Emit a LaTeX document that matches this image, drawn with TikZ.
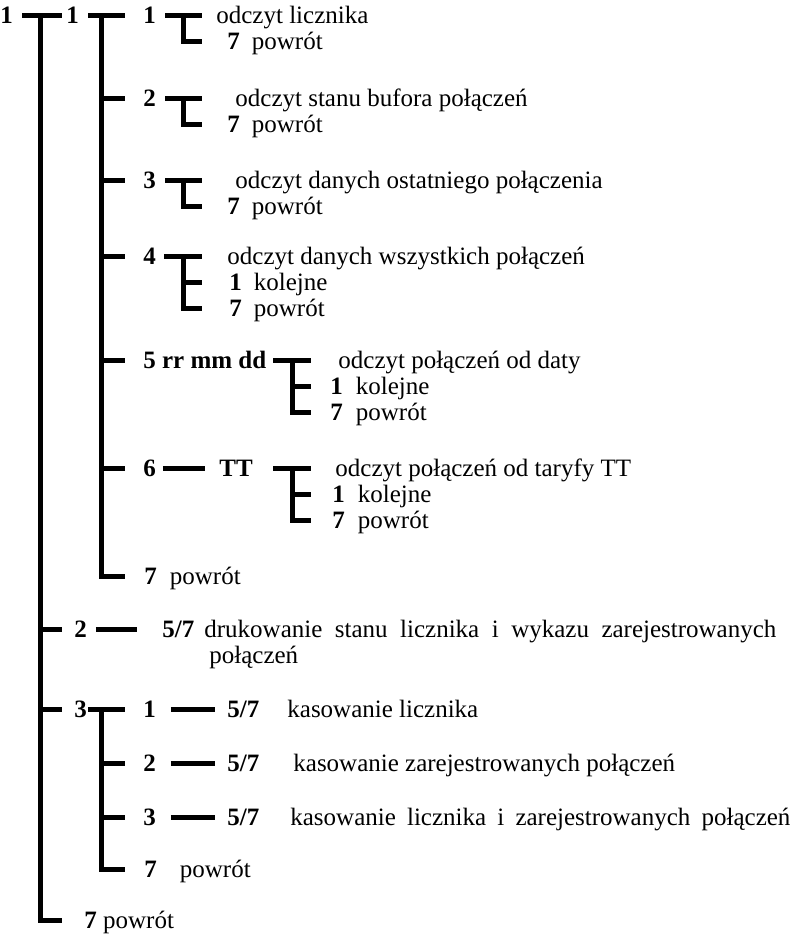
\documentclass[tikz,border=0pt]{standalone}
\usepackage{fontspec}
\setmainfont{Liberation Serif}
\usepackage{tikz}
\newcommand\menusize{\fontsize{12.5pt}{13pt}\selectfont}
\tikzset{bar/.style={line width=2.5pt},lbl/.style={anchor=west,inner sep=0pt,text height=8.4pt,text depth=0pt,font=\menusize},key/.style={lbl,font=\menusize\bfseries}}

\begin{document}
\begin{tikzpicture}[x=0.5pt,y=-0.5pt]
\useasboundingbox (0,0) rectangle (800,934);
% main menu
\node[key] (a) at (0,15) {1};
\node[key] (b) at (66,15) {1};
\coordinate (r1) at (40,15);
\coordinate (r2) at (40,629);
\coordinate (r3) at (40,709);
\coordinate (r7) at (40,920);
\draw[bar] (r1) ++(-18,0) -- ++(40,0);
\draw[bar] (r1) -- (r7) -- ++(22,0);
\draw[bar] (r2) -- ++(22,0);
\draw[bar] (r3) -- ++(22,0);
\node[lbl] (b7) at (84,920) {\textbf{7} powrót};
% menu 1
\coordinate (m1) at (101,15);
\coordinate (m2) at (101,98);
\coordinate (m3) at (101,180);
\coordinate (m4) at (101,256);
\coordinate (m5) at (101,360);
\coordinate (m6) at (101,468);
\coordinate (m7) at (101,576);
\draw[bar] (m1) ++(-13,0) -- ++(37,0);
\draw[bar] (m1) -- (m7) -- ++(24,0);
\foreach \i in {2,...,6} \draw[bar] (m\i) -- ++(24,0);
\node[key] (k11) at (143,15) {1};
\node[key] (k12) at (143,98) {2};
\node[key] (k13) at (143,180) {3};
\node[key] (k14) at (143,256) {4};
\node[key] (k15) at (143,360) {5 rr mm dd};
\node[key] (k16) at (143,468) {6};
\node[key] (tt) at (219,468) {TT};
\draw[bar,shorten <=3.25pt,shorten >=7pt] (k16) -- (tt);
\node[lbl] (k17) at (144,576) {\textbf{7}\hspace{6.5pt}powrót};
% submenus of menu 1
\coordinate (t1) at (183,15);
\coordinate (t2) at (183,98);
\coordinate (t3) at (183,180);
\coordinate (t4) at (183,256);
\coordinate (t5) at (292,360);
\coordinate (t6) at (292,468);
\foreach \i in {1,2,3} {
  \draw[bar] (t\i) ++(-18,0) -- ++(37,0);
  \draw[bar] (t\i) -- ++(0,26) -- ++(19,0);
}
\foreach \i in {4,5,6} {
  \draw[bar] (t\i) ++(-19,0) -- ++(38,0);
  \draw[bar] (t\i) -- ++(0,52) -- ++(19,0);
  \draw[bar] (t\i) ++(0,26) -- ++(19,0);
}
\node[lbl] (o1) at (216,15) {odczyt licznika};
\node[lbl] (o1b) at (227,41) {\textbf{7}\hspace{6pt}powrót};
\node[lbl] (o2) at (235,98) {odczyt stanu bufora połączeń};
\node[lbl] (o2b) at (227,124) {\textbf{7}\hspace{6pt}powrót};
\node[lbl] (o3) at (235,180) {odczyt danych ostatniego połączenia};
\node[lbl] (o3b) at (227,206) {\textbf{7}\hspace{6pt}powrót};
\node[lbl] (o4) at (227,256) {odczyt danych wszystkich połączeń};
\node[lbl] (o4a) at (229,282) {\textbf{1}\hspace{6pt}kolejne};
\node[lbl] (o4b) at (229,308) {\textbf{7}\hspace{6pt}powrót};
\node[lbl] (o5) at (338,360) {odczyt połączeń od daty};
\node[lbl] (o5a) at (330,386) {\textbf{1}\hspace{6.5pt}kolejne};
\node[lbl] (o5b) at (330,412) {\textbf{7}\hspace{6.5pt}powrót};
\node[lbl] (o6) at (335,468) {odczyt połączeń od taryfy TT};
\node[lbl] (o6a) at (332,494) {\textbf{1}\hspace{6.5pt}kolejne};
\node[lbl] (o6b) at (332,520) {\textbf{7}\hspace{6.5pt}powrót};
% menu 2
\node[key] (k2) at (74,629) {2};
\node[key] (s2) at (162,629) {5/7};
\draw[bar,shorten <=4.25pt,shorten >=12.5pt] (k2) -- (s2);
\node[lbl] (d2) at (204,629) {\makebox[286pt][s]{drukowanie stanu licznika i wykazu zarejestrowanych}};
\node[lbl] (d2b) at (209,655) {połączeń};
% menu 3
\node[key] (k3) at (74,709) {3};
\coordinate (c1) at (101,709);
\coordinate (c2) at (101,763);
\coordinate (c3) at (101,817);
\coordinate (c7) at (101,869);
\draw[bar] (c1) ++(-13,0) -- ++(37,0);
\draw[bar] (c1) -- (c7) -- ++(24,0);
\draw[bar] (c2) -- ++(24,0);
\draw[bar] (c3) -- ++(24,0);
\node[key] (k31) at (143,709) {1};
\node[key] (k32) at (143,763) {2};
\node[key] (k33) at (143,817) {3};
\foreach \i/\y in {1/709,2/763,3/817} {
  \node[key] (s3\i) at (227,\y) {5/7};
  \draw[bar,shorten <=7.25pt,shorten >=6pt] (k3\i) -- (s3\i);
}
\node[lbl] (e1) at (287,709) {kasowanie licznika};
\node[lbl] (e2) at (293,763) {kasowanie zarejestrowanych połączeń};
\node[lbl] (e3) at (290,817) {\makebox[250pt][s]{kasowanie licznika i zarejestrowanych połączeń}};
\node[lbl] (k37) at (144,869) {\textbf{7}\hspace{11.5pt}powrót};
\end{tikzpicture}
\end{document}
